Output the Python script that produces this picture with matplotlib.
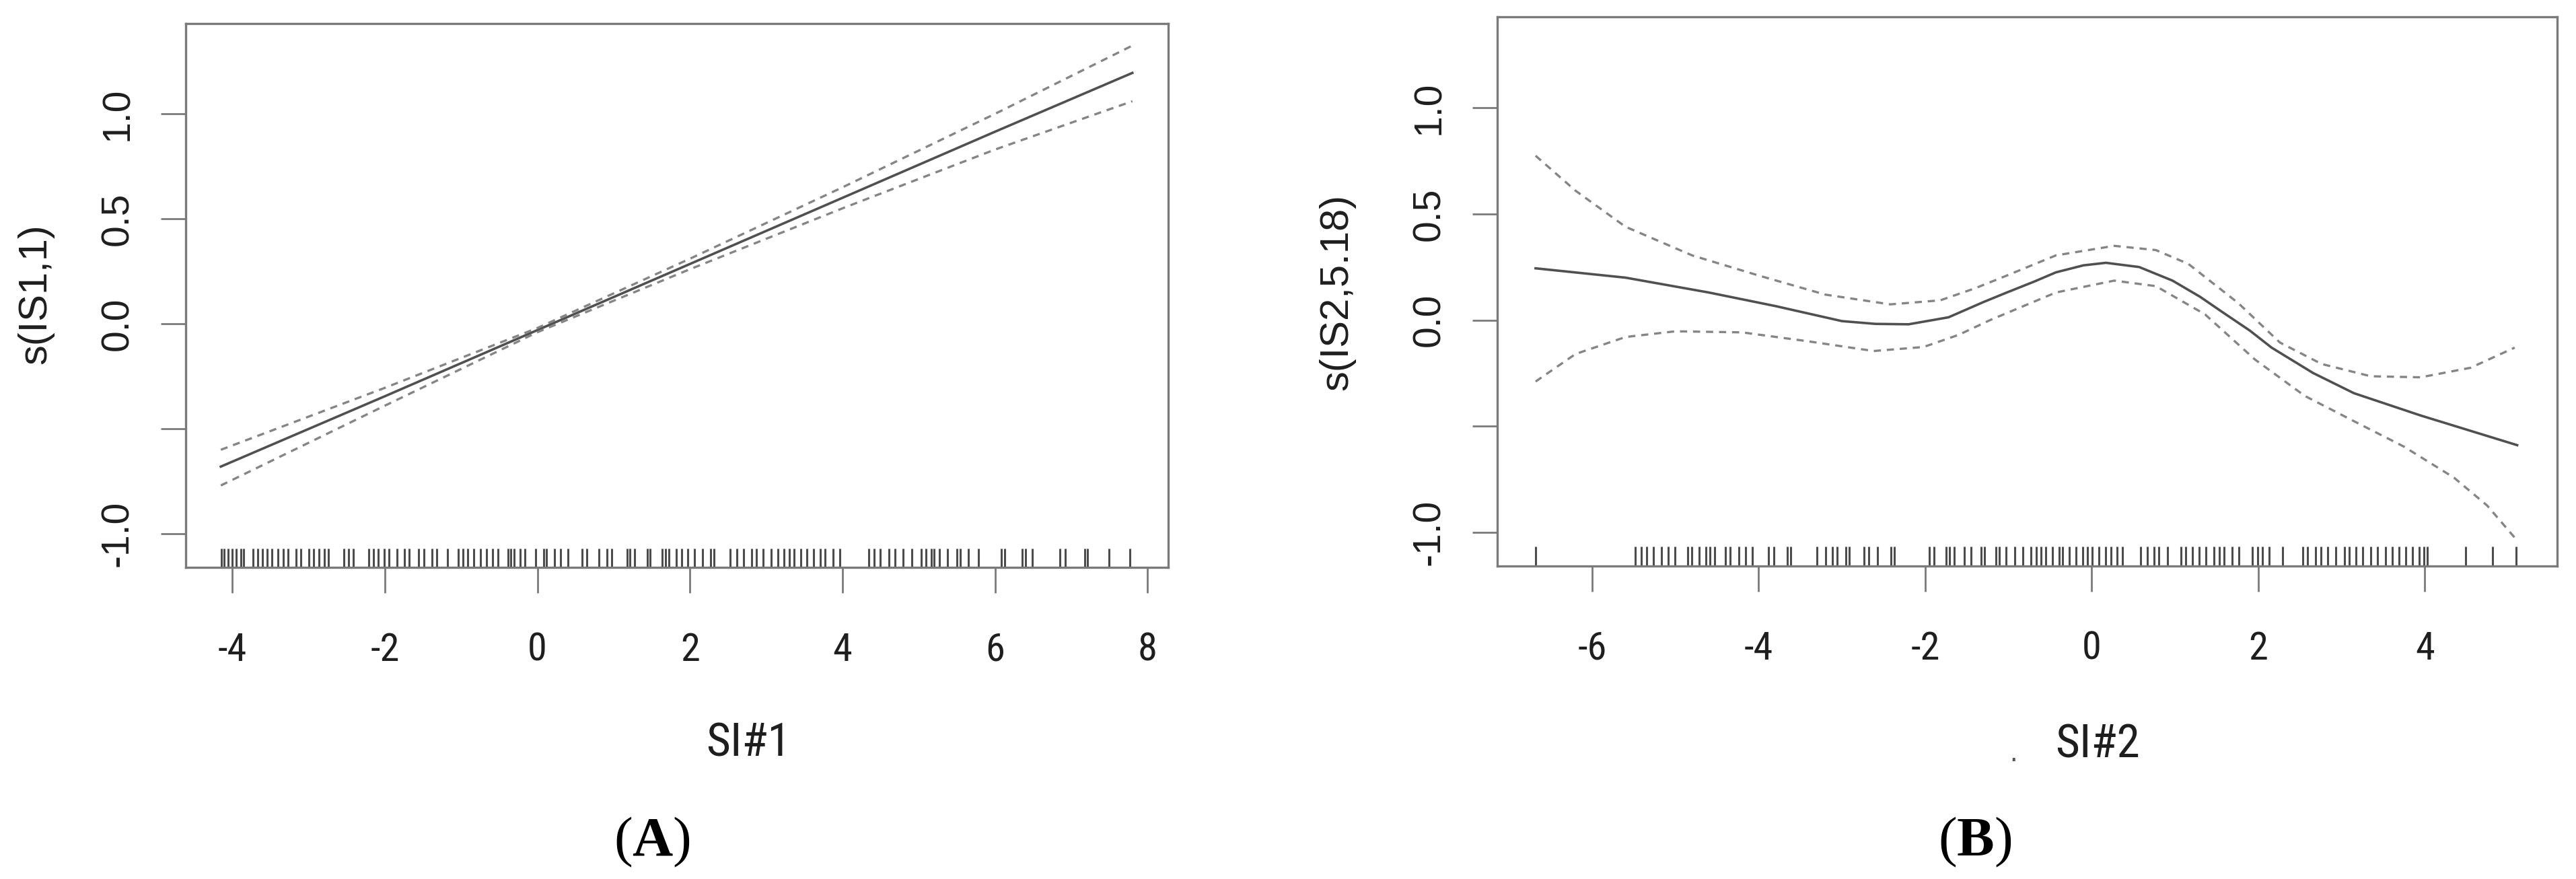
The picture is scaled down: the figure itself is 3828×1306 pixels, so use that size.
import matplotlib
matplotlib.use("Agg")
import matplotlib.pyplot as plt
from matplotlib import font_manager

# Data
# Panel A: s(IS1,1) against SI#1
x_a = [-4.15, -2.0, 0.0, 2.0, 4.0, 6.0, 7.8]
fit_a = [-0.68, -0.345, -0.03, 0.285, 0.60, 0.915, 1.195]
up_a = [-0.60, -0.305, -0.02, 0.31, 0.65, 1.00, 1.325]
lo_a = [-0.77, -0.39, -0.04, 0.26, 0.55, 0.83, 1.06]

rug_a = [-4.146, -4.105, -4.053, -4.004, -3.951, -3.891, -3.850, -3.728, -3.668, -3.607,
         -3.546, -3.485, -3.404, -3.335, -3.271, -3.161, -3.100, -2.999, -2.938, -2.865,
         -2.797, -2.736, -2.533, -2.472, -2.412, -2.209, -2.148, -2.087, -2.006, -1.946,
         -1.844, -1.743, -1.682, -1.561, -1.488, -1.378, -1.318, -1.176, -1.034, -0.973,
         -0.912, -0.831, -0.750, -0.669, -0.588, -0.515, -0.386, -0.345, -0.305, -0.224,
         -0.163, -0.021, 0.080, 0.121, 0.222, 0.303, 0.404, 0.587, 0.647, 0.810,
         0.911, 0.972, 1.174, 1.215, 1.276, 1.438, 1.478, 1.640, 1.681, 1.721,
         1.824, 1.888, 1.974, 2.059, 2.166, 2.273, 2.316, 2.530, 2.615, 2.701,
         2.808, 2.872, 2.958, 3.065, 3.150, 3.236, 3.300, 3.364, 3.450, 3.535,
         3.621, 3.707, 3.771, 3.878, 3.963, 4.348, 4.413, 4.498, 4.605, 4.691,
         4.798, 4.905, 5.033, 5.097, 5.161, 5.204, 5.268, 5.375, 5.504, 5.546,
         5.653, 5.782, 6.081, 6.124, 6.360, 6.402, 6.488, 6.852, 6.916, 7.172,
         7.215, 7.493, 7.771]

# Panel B: s(IS2,5.18) against SI#2
x_b = [-6.68, -5.6, -4.6, -3.8, -3.0, -2.6, -2.2, -1.72, -1.3, -1.02, -0.7, -0.43, -0.1,
       0.17, 0.57, 0.97, 1.3, 1.56, 1.9, 2.16, 2.66, 3.15, 3.95, 5.11]
fit_b = [0.244, 0.20, 0.13, 0.066, -0.005, -0.018, -0.02, 0.013, 0.085, 0.13, 0.18,
         0.225, 0.258, 0.27, 0.25, 0.186, 0.11, 0.04, -0.05, -0.13, -0.25, -0.345,
         -0.45, -0.59]

x_up_b = [-6.68, -6.2, -5.6, -4.8, -4.0, -3.2, -2.42, -1.82, -1.4, -1.02, -0.43, 0.27,
          0.77, 1.16, 1.76, 2.26, 2.76, 3.35, 3.95, 4.55, 5.08]
up_b = [0.775, 0.61, 0.44, 0.305, 0.21, 0.12, 0.074, 0.093, 0.15, 0.21, 0.305, 0.35,
        0.33, 0.265, 0.08, -0.106, -0.207, -0.265, -0.27, -0.225, -0.13]

x_lo_b = [-6.68, -6.2, -5.6, -5.0, -4.2, -3.41, -2.62, -2.02, -1.6, -1.22, -0.43, 0.27,
          0.77, 1.36, 1.96, 2.56, 3.15, 3.75, 4.35, 4.75, 5.11]
lo_b = [-0.29, -0.16, -0.08, -0.053, -0.058, -0.10, -0.146, -0.127, -0.07, 0.0, 0.13,
        0.186, 0.16, 0.027, -0.186, -0.358, -0.477, -0.597, -0.743, -0.875, -1.04]

rug_b = [-6.683, -5.486, -5.414, -5.345, -5.265, -5.165, -5.084, -5.004, -4.851, -4.803,
         -4.715, -4.635, -4.582, -4.530, -4.402, -4.341, -4.241, -4.161, -4.080, -3.880,
         -3.819, -3.659, -3.618, -3.297, -3.197, -3.116, -3.056, -2.956, -2.916, -2.735,
         -2.675, -2.574, -2.414, -2.373, -1.952, -1.892, -1.751, -1.711, -1.651, -1.530,
         -1.450, -1.329, -1.289, -1.149, -1.108, -1.028, -0.928, -0.827, -0.727, -0.667,
         -0.613, -0.553, -0.473, -0.392, -0.352, -0.272, -0.192, -0.112, -0.052, 0.008,
         0.088, 0.168, 0.228, 0.308, 0.368, 0.589, 0.669, 0.749, 0.809, 0.909,
         1.069, 1.129, 1.209, 1.290, 1.370, 1.470, 1.530, 1.590, 1.690, 1.770,
         1.930, 1.990, 2.050, 2.131, 2.291, 2.531, 2.591, 2.691, 2.751, 2.831,
         2.932, 3.032, 3.092, 3.172, 3.252, 3.352, 3.432, 3.532, 3.612, 3.692,
         3.772, 3.853, 3.933, 3.993, 4.033, 4.493, 4.814, 5.094]

y_ticks = [-1.0, -0.5, 0.0, 0.5, 1.0]
y_labels = ["-1.0", "", "0.0", "0.5", "1.0"]
x_ticks_a = [-4, -2, 0, 2, 4, 6, 8]
x_ticks_b = [-6, -4, -2, 0, 2, 4]

# Fonts
names = {f.name for f in font_manager.fontManager.ttflist}
narrow = next((n for n in ["Liberation Sans Narrow", "Roboto Condensed", "Open Sans Condensed"]
               if n in names), "Liberation Sans")
plt.rcParams["font.family"] = ["Liberation Sans", "DejaVu Sans"]
plt.rcParams["axes.unicode_minus"] = False
plt.rcParams["mathtext.fontset"] = "custom"
plt.rcParams["mathtext.rm"] = "Liberation Serif"
plt.rcParams["mathtext.bf"] = "Liberation Serif:bold"

fig = plt.figure(figsize=(38.28, 13.06), dpi=100)
W, H = 3828, 1306

ax_a = fig.add_axes([276 / W, 1 - 843 / H, 1460 / W, 808 / H])
ax_b = fig.add_axes([2225 / W, 1 - 841 / H, 1575 / W, 816 / H])

edge = "#7a7a7a"
txt = "#1e1e1e"


def style_panel(ax, xt, xlim):
    ax.set_xlim(*xlim)
    ax.set_ylim(-1.16, 1.43)
    ax.set_xticks(xt)
    ax.set_xticklabels([str(v) for v in xt], fontfamily=narrow, fontsize=42, color=txt)
    ax.set_yticks(y_ticks)
    ax.set_yticklabels(y_labels, fontsize=41, color=txt, rotation=90, va="center")
    ax.tick_params(axis="x", length=27, width=2.0, color=edge, pad=42)
    ax.tick_params(axis="y", length=27, width=2.0, color=edge, pad=26)
    for s in ax.spines.values():
        s.set_color(edge)
        s.set_linewidth(2.4)


def draw_rug(ax, xs):
    ax.vlines(xs, 0, 0.035, transform=ax.get_xaxis_transform(),
              color="black", alpha=0.7, linewidth=2.2)


# (A)
ax_a.plot(x_a, fit_a, color="#505050", linewidth=2.6)
ax_a.plot(x_a, up_a, color="#858585", linewidth=2.4, dashes=(3.2, 2.6))
ax_a.plot(x_a, lo_a, color="#858585", linewidth=2.4, dashes=(3.2, 2.6))
draw_rug(ax_a, rug_a)
style_panel(ax_a, x_ticks_a, (-4.61, 8.27))

# (B)
ax_b.plot(x_b, fit_b, color="#505050", linewidth=2.6)
ax_b.plot(x_up_b, up_b, color="#858585", linewidth=2.4, dashes=(3.2, 2.6))
ax_b.plot(x_lo_b, lo_b, color="#858585", linewidth=2.4, dashes=(3.2, 2.6))
draw_rug(ax_b, rug_b)
style_panel(ax_b, x_ticks_b, (-7.14, 5.59))

# Labels
fig.text(53 / W, 1 - 437 / H, "s(IS1,1)", rotation=90, fontsize=43, color=txt,
         ha="center", va="center")
fig.text(1987 / W, 1 - 434 / H, "s(IS2,5.18)", rotation=90, fontsize=43, color=txt,
         ha="center", va="center")
fig.text(1112 / W, 1 - 1105 / H, "SI#1", fontfamily=narrow, fontsize=50, color=txt,
         ha="center", va="center")
fig.text(3117 / W, 1 - 1107 / H, "SI#2", fontfamily=narrow, fontsize=50, color=txt,
         ha="center", va="center")
fig.text(2992 / W, 1 - 1120 / H, ".", fontsize=30, color="#555555", ha="center", va="center")
fig.text(969 / W, 1 - 1251 / H, r"$\mathrm{(}\mathbf{A}\mathrm{)}$", fontsize=60,
         color="black", ha="center", va="center")
fig.text(2935 / W, 1 - 1251 / H, r"$\mathrm{(}\mathbf{B}\mathrm{)}$", fontsize=60,
         color="black", ha="center", va="center")

fig.savefig("out.png", dpi=100)
